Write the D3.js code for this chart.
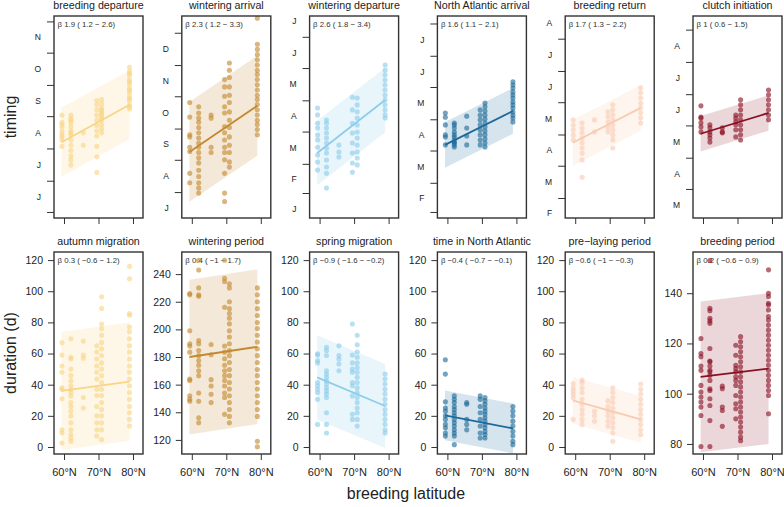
<!DOCTYPE html>
<html><head><meta charset="utf-8">
<script src="https://cdn.jsdelivr.net/npm/d3@7"></script>
<style>body{margin:0;background:#fff}svg{font-family:"Liberation Sans",Arial,Helvetica,sans-serif}</style>
</head><body><svg id="c" width="784" height="507"></svg>
<script>
// ---------- data ----------
const colonyLat = [59.4, 62.0, 65.6, 69.5, 70.9, 79.0];
const latTicks = [60, 70, 80];
const latTickLabels = ["60°N", "70°N", "80°N"];
const fitLat = [59.3, 79.0];
const monthStarts = [1, 32, 60, 91, 121, 152, 182, 213, 244, 274, 305, 335, 366, 397, 425, 456];
const monthLetters = ["J", "F", "M", "A", "M", "J", "J", "A", "S", "O", "N", "D", "J", "F", "M", "A"];

const titles = ["breeding departure", "wintering arrival", "wintering departure", "North Atlantic arrival", "breeding return", "clutch initiation",
  "autumn migration", "wintering period", "spring migration", "time in North Atlantic", "pre\u2212laying period", "breeding period"];
const betaLabels = ["\u03b2 1.9 ( 1.2 \u2212 2.6)", "\u03b2 2.3 ( 1.2 \u2212 3.3)", "\u03b2 2.6 ( 1.8 \u2212 3.4)", "\u03b2 1.6 ( 1.1 \u2212 2.1)", "\u03b2 1.7 ( 1.3 \u2212 2.2)", "\u03b2 1 ( 0.6 \u2212 1.5)",
  "\u03b2 0.3 ( \u22120.6 \u2212 1.2)", "\u03b2 0.4 ( \u22121 \u2212 1.7)", "\u03b2 \u22120.9 ( \u22121.6 \u2212 \u22120.2)", "\u03b2 \u22120.4 ( \u22120.7 \u2212 \u22120.1)", "\u03b2 \u22120.6 ( \u22121 \u2212 \u22120.3)", "\u03b2 0.2 ( \u22120.6 \u2212 0.9)"];

// timing (day of year, continuing past 365 into next year)
const breedingDeparture = [
  [245, 238, 233, 229, 224, 221, 215, 226, 236],
  [245, 242, 238, 234, 230, 226, 221, 216, 211, 206, 202, 197, 240, 228],
  [228, 216],
  [259, 255, 250, 245, 240, 235, 230, 225, 215, 205, 190],
  [260, 256, 252, 248, 244, 240, 236, 232, 228, 250, 246, 242],
  [291, 287, 283, 279, 275, 271, 267, 263, 259, 255, 251, 285, 277, 269, 261, 253]];
const winteringArrival = [
  [299, 285, 268, 266, 256, 252, 231, 222],
  [295, 289, 284, 280, 275, 270, 265, 260, 256, 251, 246, 241, 234, 228, 222, 217, 212],
  [287, 284, 256, 251],
  [321, 314, 305, 295, 289, 276, 270, 263, 256, 251, 244, 231, 212, 204],
  [337, 330, 323, 314, 306, 299, 290, 282, 275, 266, 258, 251, 242, 237],
  [380, 355, 350, 345, 340, 335, 330, 326, 321, 316, 311, 306, 302, 297, 292, 287, 282, 278, 273, 268]];
const winteringDeparture = [
  [113.7, 107, 99, 94.5, 87.7, 83, 76, 68.5, 61.8, 54],
  [102, 99, 94.5, 89.7, 84.9, 80, 75, 70.4, 63.7, 57, 51, 36.8],
  [78, 71.4, 66.6],
  [124, 111.8, 99, 89.7, 80, 70.4, 60.8, 52],
  [123.3, 116.6, 110, 104, 97.3, 90.6, 84.9, 78, 71.4, 65.6, 59],
  [155, 150, 145.4, 140.6, 135.8, 131, 126, 121.4, 116.6, 111.8, 107, 104]];
const northAtlanticArrival = [
  [127, 123, 115.6, 106, 104, 96.4],
  [117.5, 112.7, 106, 101, 98.3, 94.4, 115.6, 108.8, 104, 99.2, 96.4],
  [124, 112.7, 105, 96.4],
  [130, 125, 120.4, 115.6, 110.8, 106, 101, 96.4],
  [136.7, 133, 129, 125, 121.3, 117.5, 113.7, 109.8, 106, 102, 98.3, 94.4],
  [156.9, 154, 151, 147.3, 144.4, 141.5, 137.7, 134.8, 131.9, 128, 125, 122.3, 118.5]];
const breedingReturn = [
  [135, 130, 125.4, 120.6, 115.8],
  [132, 127, 122.5, 117.7, 113, 108, 103, 96.6, 80],
  [135, 123.5],
  [142.7, 138, 133, 128, 123.5],
  [149.5, 144.7, 140, 135, 130, 125.4, 120.6, 115.8, 108],
  [165.8, 161, 156, 151, 146.6, 141.8, 137, 132]];
const clutchInitiation = [
  [170.8, 160, 159, 154.5, 150.6, 145.8],
  [152.6, 149.7, 145.8, 143, 140, 136],
  [149.7, 145.8, 144.9],
  [162, 159, 155.5, 152.6, 147.8, 141],
  [176.6, 171.8, 167, 162, 157.4, 152.6, 147.8, 143, 138],
  [186, 181.4, 176.6, 171.8, 167, 162, 157.4]];

// durations (days)
const autumnMigration = [
  [67, 59, 52, 48, 38, 37, 31, 11, 9, 2.6],
  [69.5, 57.6, 56.5, 50, 45.8, 42.5, 39.3, 37, 35, 32.8, 28.5, 26, 23, 19.9, 15.5, 11, 8, 5.8, 3.7],
  [68, 59, 57, 31.7, 25],
  [65, 61, 56.5, 52, 48, 43.6, 37, 33, 26, 20, 15.5, 11, 7],
  [96.5, 89, 79, 76, 71.7, 67, 63, 58.7, 54, 50, 45.8, 41.4, 37, 33, 28.5, 24, 20, 15.5, 11, 4.7],
  [116, 108, 85.7, 84.6, 77, 74, 69.5, 65, 61, 56.5, 52, 48, 43.6, 39.3, 35, 30.6, 26, 22, 17.7, 13.4]];
const winteringPeriod = [
  [226, 225, 199, 189.6, 188, 183.5, 164, 163, 152, 149.5, 148],
  [250, 243, 230, 225, 224, 192, 189.6, 184.7, 181, 177.5, 174, 170, 166.5, 154, 148, 136, 132.4],
  [189, 181.6, 163.6, 159, 153, 147],
  [250, 237, 234.7, 216, 188, 183.5, 178.7, 174, 170, 166.5, 163, 159, 154, 150.7, 138.5],
  [233, 230, 220, 215, 211.5, 208, 204, 199, 194.5, 189.6, 184.7, 181, 176, 171, 166.5, 161.6, 156.8, 152, 147, 142, 137, 132.4],
  [230, 225, 220, 215, 210, 205, 200.6, 195.7, 190.8, 186, 181, 176, 171, 166.5, 161.6, 156.8, 152, 147, 142, 137, 119, 115]];
const springMigration = [
  [59.8, 59, 55.5, 54, 41.4, 39.3, 37, 35, 30.6, 14.5],
  [64, 62, 58.7, 49, 46.8, 44.7, 42.5, 40.4, 38, 36, 34, 31.7, 22, 14.5, 9],
  [65, 58.7, 56.5, 53.3, 49],
  [79, 59, 54, 50, 48, 41.4, 39.3, 32.8, 21, 17.7],
  [71.7, 65.6, 61, 57.6, 54, 51, 48, 44.7, 41.4, 38, 35, 31.7, 28.5, 25, 22, 17.7, 13.4],
  [46.8, 43.6, 40.4, 37, 34, 30.6, 27.4, 24, 21, 17.7, 14.5, 11, 9]];
const timeNorthAtlantic = [
  [56, 46.8, 29, 25, 23, 20, 17.7, 14.5, 12.3, 9, 7],
  [32.8, 30.6, 28.5, 26, 24, 22, 20, 17.7, 15.5, 13.4, 11, 9, 7, 1.5],
  [28.5, 27.4, 17.7, 14.5, 11],
  [32.8, 30.6, 26, 22, 17.7, 13.4, 9, 5.8],
  [31.7, 29.6, 27.4, 25, 23, 21, 18.8, 16.6, 14.5, 12.3, 10, 8, 5.8],
  [26, 23, 20, 16.6, 13.4, 10, 7, 3.7, 1.5]];
const preLayingPeriod = [
  [40.8, 38, 36, 34, 31.7, 17.7],
  [43, 41.4, 38, 35, 30.6, 27.4, 24, 21, 17.7, 14.5],
  [23, 20, 16.6],
  [29.6, 26, 23, 20, 16.6, 13.4],
  [38, 35, 31.7, 28.5, 25, 22, 18.8, 15.5, 12.3, 9, 3.7],
  [40.4, 37, 34, 30.6, 27.4, 24, 21, 17.7, 14.5, 11, 8]];
const breedingPeriod = [
  [122, 116, 114.7, 111, 109.3, 103.3, 100.7, 98.7, 96.7, 94.7, 91.3, 79],
  [153, 134, 133, 130, 129, 128, 118, 113, 112.7, 111, 109.3, 108.7, 107.3, 105.3, 102, 101.3, 98, 95.3, 89.3, 79],
  [103, 102, 94.7, 93.3, 87],
  [119.3, 115.3, 111.3, 110, 108.7, 106.7, 105.3, 103.3, 99.3, 96, 94, 90],
  [122.7, 120.7, 118.7, 116.7, 114.7, 112.7, 110.7, 108.7, 106.7, 104.7, 102.7, 100.7, 98.7, 96.7, 94.7, 92.7, 90.7, 88.7, 86.7, 84.7, 82.7, 81.3],
  [149.3, 140, 138.7, 136, 135.3, 133.3, 130.7, 129.3, 127.3, 125.3, 123.3, 121.3, 119.3, 117.3, 115.3, 113.3, 111.3, 109.3, 107.3, 105.3, 103.3, 101.3, 99.3, 92]];

// fitted values at fitLat, and half-width of prediction band
const fitValues = [[219, 255], [251.6, 296], [70.4, 121.4], [96.4, 129], [113, 146.6], [144, 164],
  [36, 42], [180, 187.4], [44.7, 26.3], [20.3, 11.9], [30, 17.7], [106.7, 110]];
const bandHalf = [33, 48, 31, 22, 22, 17, 38, 56, 27, 16, 15, 30];
const durationTicks = [[0, 20, 40, 60, 80, 100, 120], [120, 140, 160, 180, 200, 220, 240], [0, 20, 40, 60, 80, 100, 120],
  [0, 20, 40, 60, 80, 100, 120], [0, 20, 40, 60, 80, 100, 120], [80, 100, 120, 140]];

// ---------- styling / layout ----------
const colors = ["#F8D585", "#C4892F", "#8DCDEA", "#1D6A9A", "#F9CBB1", "#8A0F22"];
const bandOpacity = [0.2, 0.19, 0.2, 0.18, 0.2, 0.17];
const yDomains = [[146.2, 340.2], [188.1, 382.1], [8, 202], [26.2, 220.2], [40.8, 234.8], [63.1, 257.1],
  [-4.5, 125.2], [109.8, 256], [-4.5, 125.2], [-4.5, 125.2], [-4.5, 125.2], [76, 156.4]];
const allData = [breedingDeparture, winteringArrival, winteringDeparture, northAtlanticArrival, breedingReturn, clutchInitiation,
  autumnMigration, winteringPeriod, springMigration, timeNorthAtlantic, preLayingPeriod, breedingPeriod];

const svg = d3.select("#c");
const boxW = 89, boxH = 202;
const rowTop = [16, 252];
const colLeft = i => 54 + i * 127.8;
const ink = "#333";

allData.forEach((data, k) => {
  const row = Math.floor(k / 6), col = k % 6;
  const color = colors[col];
  const g = svg.append("g").attr("transform", `translate(${colLeft(col)},${rowTop[row]})`);
  const x = d3.scaleLinear().domain([57.1, 82.9]).range([0, boxW]);
  const y = d3.scaleLinear().domain(yDomains[k]).range([boxH, 0]);

  const cid = "clip" + k;
  g.append("clipPath").attr("id", cid).append("rect").attr("width", boxW).attr("height", boxH);

  // title
  g.append("text").attr("x", boxW / 2).attr("y", -7.5).attr("text-anchor", "middle")
    .attr("font-size", 10.7).attr("fill", "#222").text(titles[k]);
  // beta annotation
  g.append("text").attr("x", 3.5).attr("y", 10.5).attr("font-size", 7.8).attr("fill", "#333").text(betaLabels[k]);

  const plot = g.append("g").attr("clip-path", `url(#${cid})`);
  const fit = fitLat.map((l, i) => ({ lat: l, v: fitValues[k][i] }));
  plot.append("path").datum(fit)
    .attr("d", d3.area().x(d => x(d.lat)).y0(d => y(d.v - bandHalf[k])).y1(d => y(d.v + bandHalf[k])))
    .attr("fill", color).attr("fill-opacity", bandOpacity[col]);

  const pts = [];
  data.forEach((vals, ci) => vals.forEach(v => pts.push({ lat: colonyLat[ci], v })));
  plot.selectAll("circle").data(pts).join("circle")
    .attr("cx", d => x(d.lat)).attr("cy", d => y(d.v)).attr("r", 2.55)
    .attr("fill", color).attr("fill-opacity", 0.62);

  plot.append("path").datum(fit)
    .attr("d", d3.line().x(d => x(d.lat)).y(d => y(d.v)))
    .attr("fill", "none").attr("stroke", color).attr("stroke-width", 1.8);

  // x axis
  const xa = g.append("g").attr("transform", `translate(0,${boxH})`)
    .call(d3.axisBottom(x).tickValues(latTicks).tickSize(6).tickPadding(8)
      .tickFormat((d, i) => row === 1 ? latTickLabels[i] : ""));
  xa.select(".domain").remove();
  xa.selectAll("line").attr("stroke", ink);
  xa.selectAll("text").attr("font-size", 11).attr("fill", "#222").attr("font-family", null);

  // y axis
  if (row === 0) {
    const [lo, hi] = yDomains[k];
    const starts = monthStarts.filter(s => s >= lo && s <= hi);
    const mids = [];
    monthStarts.forEach((s, i) => {
      if (i < monthStarts.length - 1) {
        const m = (s + monthStarts[i + 1]) / 2;
        if (m >= lo + 3 && m <= hi - 1) mids.push({ m, lab: monthLetters[i] });
      }
    });
    const ya = g.append("g").call(d3.axisLeft(y).tickValues(starts).tickSize(7).tickFormat(""));
    ya.select(".domain").remove();
    ya.selectAll("line").attr("stroke", ink);
    const yl = g.append("g").call(d3.axisLeft(y).tickValues(mids.map(d => d.m)).tickSize(0).tickPadding(13)
      .tickFormat((d, i) => mids[i].lab));
    yl.select(".domain").remove();
    yl.selectAll("text").attr("font-size", 8.5).attr("fill", "#222").attr("font-family", null);
  } else {
    const ya = g.append("g").call(d3.axisLeft(y).tickValues(durationTicks[col]).tickSize(6).tickPadding(5));
    ya.select(".domain").remove();
    ya.selectAll("line").attr("stroke", ink);
    ya.selectAll("text").attr("font-size", 10.5).attr("fill", "#222").attr("font-family", null);
  }

  // box
  g.append("rect").attr("width", boxW).attr("height", boxH).attr("fill", "none")
    .attr("stroke", ink).attr("stroke-width", 1.4);
});

// axis titles
svg.append("text").attr("transform", "translate(16,117) rotate(-90)").attr("text-anchor", "middle")
  .attr("font-size", 16).attr("fill", "#222").text("timing");
svg.append("text").attr("transform", "translate(16,353) rotate(-90)").attr("text-anchor", "middle")
  .attr("font-size", 16).attr("fill", "#222").text("duration (d)");
svg.append("text").attr("x", 406).attr("y", 499).attr("text-anchor", "middle")
  .attr("font-size", 16).attr("fill", "#222").text("breeding latitude");
</script></body></html>
